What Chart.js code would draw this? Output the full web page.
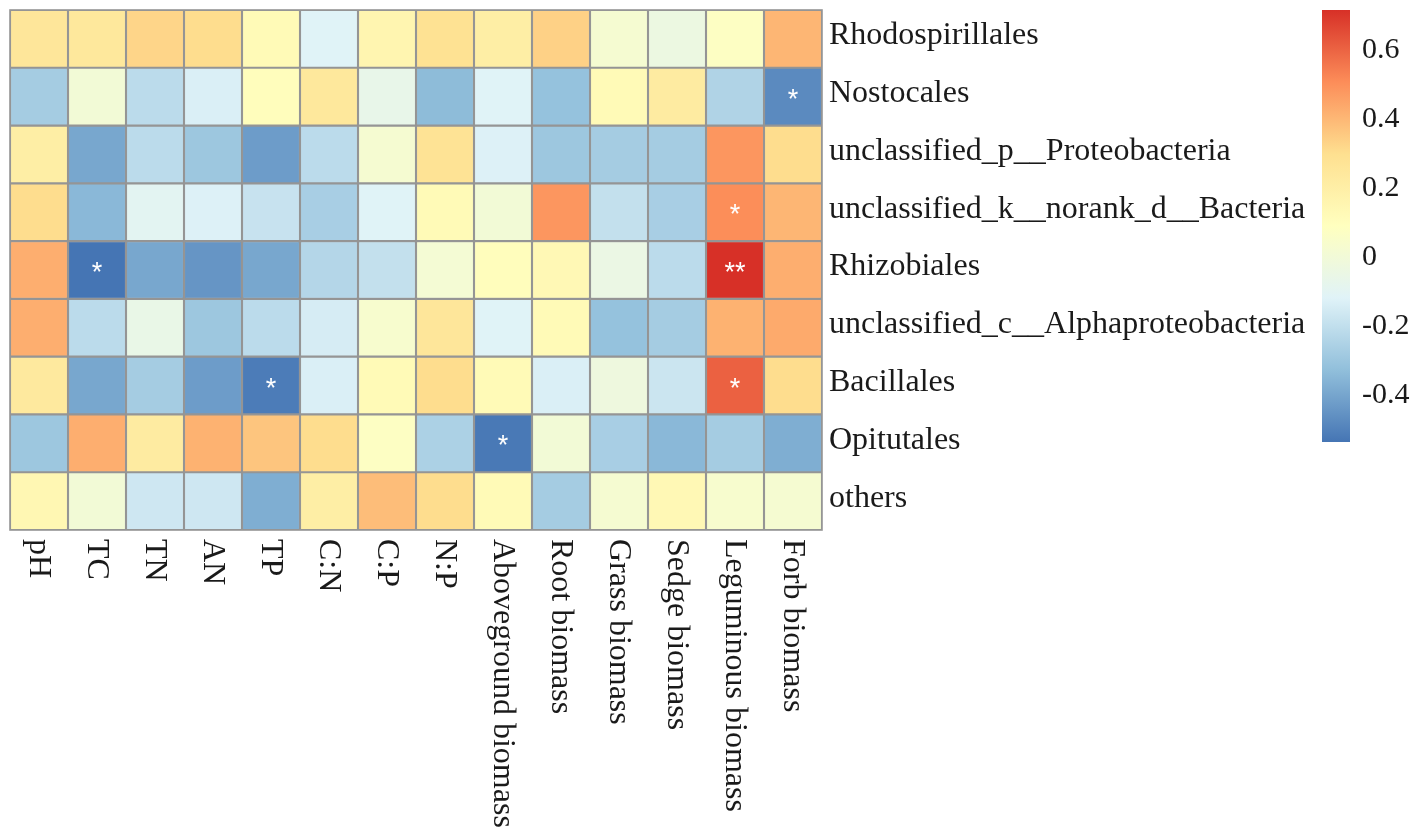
<!DOCTYPE html>
<html>
<head>
<meta charset="utf-8">
<script src="https://cdn.jsdelivr.net/npm/chart.js@4/dist/chart.umd.min.js"></script>
<style>
  html, body { margin: 0; padding: 0; background: #fff; }
  #wrap { width: 1418px; height: 839px; }
</style>
</head>
<body>
<div id="wrap"><canvas id="chart"></canvas></div>
<script>
// column variables (x) and taxa (rows, top to bottom)
const columns = ['pH', 'TC', 'TN', 'AN', 'TP', 'C:N', 'C:P', 'N:P', 'Aboveground biomass',
  'Root biomass', 'Grass biomass', 'Sedge biomass', 'Leguminous biomass', 'Forb biomass']
const rows = ['Rhodospirillales', 'Nostocales', 'unclassified_p__Proteobacteria',
  'unclassified_k__norank_d__Bacteria', 'Rhizobiales', 'unclassified_c__Alphaproteobacteria',
  'Bacillales', 'Opitutales', 'others']

// correlation values, one array per row
const rhodospirillales = [0.25, 0.24, 0.32, 0.30, 0.12, -0.12, 0.15, 0.28, 0.20, 0.33, 0.02, -0.04, 0.07, 0.40]
const nostocales = [-0.28, 0.00, -0.22, -0.14, 0.10, 0.24, -0.07, -0.34, -0.12, -0.32, 0.12, 0.22, -0.25, -0.48]
const proteobacteria = [0.20, -0.40, -0.22, -0.30, -0.43, -0.22, 0.02, 0.27, -0.13, -0.30, -0.28, -0.28, 0.48, 0.30]
const noranks = [0.30, -0.35, -0.10, -0.13, -0.19, -0.27, -0.12, 0.12, 0.00, 0.48, -0.20, -0.27, 0.50, 0.40]
const rhizobiales = [0.42, -0.54, -0.40, -0.45, -0.40, -0.24, -0.20, 0.01, 0.10, 0.13, -0.05, -0.22, 0.71, 0.42]
const alphaproteo = [0.42, -0.22, -0.06, -0.30, -0.22, -0.15, 0.03, 0.25, -0.12, 0.12, -0.32, -0.28, 0.41, 0.43]
const bacillales = [0.23, -0.40, -0.28, -0.43, -0.52, -0.14, 0.12, 0.30, 0.12, -0.14, -0.03, -0.18, 0.60, 0.30]
const opitutales = [-0.30, 0.42, 0.22, 0.41, 0.36, 0.30, 0.07, -0.26, -0.53, 0.00, -0.27, -0.35, -0.28, -0.38]
const others = [0.14, 0.00, -0.17, -0.17, -0.38, 0.20, 0.38, 0.30, 0.12, -0.28, 0.02, 0.13, 0.03, 0.02]
const values = [rhodospirillales, nostocales, proteobacteria, noranks, rhizobiales,
  alphaproteo, bacillales, opitutales, others]

// significance marks: [row, column, mark]
const marks = [
  ['Nostocales', 'Forb biomass', '*'],
  ['unclassified_k__norank_d__Bacteria', 'Leguminous biomass', '*'],
  ['Rhizobiales', 'TC', '*'],
  ['Rhizobiales', 'Leguminous biomass', '**'],
  ['Bacillales', 'TP', '*'],
  ['Bacillales', 'Leguminous biomass', '*'],
  ['Opitutales', 'Aboveground biomass', '*']
]

const legendTicks = [0.6, 0.4, 0.2, 0, -0.2, -0.4]
const vmin = -0.54, vmax = 0.71

// pheatmap default palette, rev(RdYlBu 7)
const palette = ['#4575B4', '#91BFDB', '#E0F3F8', '#FFFFBF', '#FEE090', '#FC8D59', '#D73027']

function hex2rgb(h) {
  return [1, 3, 5].map(i => parseInt(h.slice(i, i + 2), 16))
}
function colorFor(v) {
  let t = (v - vmin) / (vmax - vmin)
  t = Math.max(0, Math.min(1, t)) * (palette.length - 1)
  const i = Math.min(Math.floor(t), palette.length - 2)
  const f = t - i
  const a = hex2rgb(palette[i]), b = hex2rgb(palette[i + 1])
  const c = a.map((x, k) => Math.round(x + (b[k] - x) * f))
  return `rgb(${c[0]},${c[1]},${c[2]})`
}

const serif = '"Liberation Serif", "Times New Roman", serif'

// datasets stacked from bottom row upwards
const datasets = rows.map((name, r) => ({
  label: name,
  data: columns.map(() => 1),
  backgroundColor: values[r].map(colorFor),
  borderColor: '#959595',
  borderWidth: 1.4,
  borderSkipped: false
})).reverse()

const decorations = {
  id: 'decorations',
  afterDraw(chart) {
    const { ctx, chartArea: area, scales: { x, y } } = chart
    const rowCenter = r => y.getPixelForValue(rows.length - r - 0.5)
    ctx.save()

    ctx.strokeStyle = '#959595'
    ctx.lineWidth = 1.6
    ctx.strokeRect(area.left, area.top, area.right - area.left, area.bottom - area.top)

    // significance stars
    ctx.fillStyle = '#ffffff'
    ctx.font = '27px "Liberation Sans", Arial, sans-serif'
    ctx.textAlign = 'center'
    ctx.textBaseline = 'alphabetic'
    marks.forEach(([rn, cn, m]) => {
      const cx = x.getPixelForValue(columns.indexOf(cn))
      const cy = rowCenter(rows.indexOf(rn))
      ctx.fillText(m, cx, cy + 11)
    })

    // row labels on the right
    ctx.fillStyle = '#1a1a1a'
    ctx.font = '32px ' + serif
    ctx.textAlign = 'left'
    ctx.textBaseline = 'middle'
    rows.forEach((name, r) => ctx.fillText(name, area.right + 7, rowCenter(r) - 3))

    // column labels, rotated clockwise
    columns.forEach((name, c) => {
      ctx.save()
      ctx.translate(x.getPixelForValue(c), area.bottom + 9)
      ctx.rotate(Math.PI / 2)
      ctx.textAlign = 'left'
      ctx.textBaseline = 'middle'
      ctx.fillText(name, 0, 1)
      ctx.restore()
    })

    // colour bar
    const bx = 1322, bw = 28, top = 10, bottom = 442
    const grad = ctx.createLinearGradient(0, bottom, 0, top)
    palette.forEach((col, i) => grad.addColorStop(i / (palette.length - 1), col))
    ctx.fillStyle = grad
    ctx.fillRect(bx, top, bw, bottom - top)
    const toY = v => top + (vmax - v) / (vmax - vmin) * (bottom - top)
    ctx.fillStyle = '#1a1a1a'
    ctx.font = '30px ' + serif
    ctx.textAlign = 'left'
    ctx.textBaseline = 'middle'
    legendTicks.forEach(v => ctx.fillText(String(v), bx + 40, toY(v) + 2))

    ctx.restore()
  }
}

new Chart(document.getElementById('chart'), {
  type: 'bar',
  data: { labels: columns, datasets },
  options: {
    responsive: true,
    maintainAspectRatio: false,
    animation: false,
    layout: { padding: { left: 10, top: 10, right: 596, bottom: 309 } },
    datasets: { bar: { barPercentage: 1, categoryPercentage: 1 } },
    scales: {
      x: { stacked: true, display: false },
      y: { stacked: true, display: false, min: 0, max: rows.length }
    },
    plugins: { legend: { display: false }, tooltip: { enabled: false } }
  },
  plugins: [decorations]
})
</script>
</body>
</html>
